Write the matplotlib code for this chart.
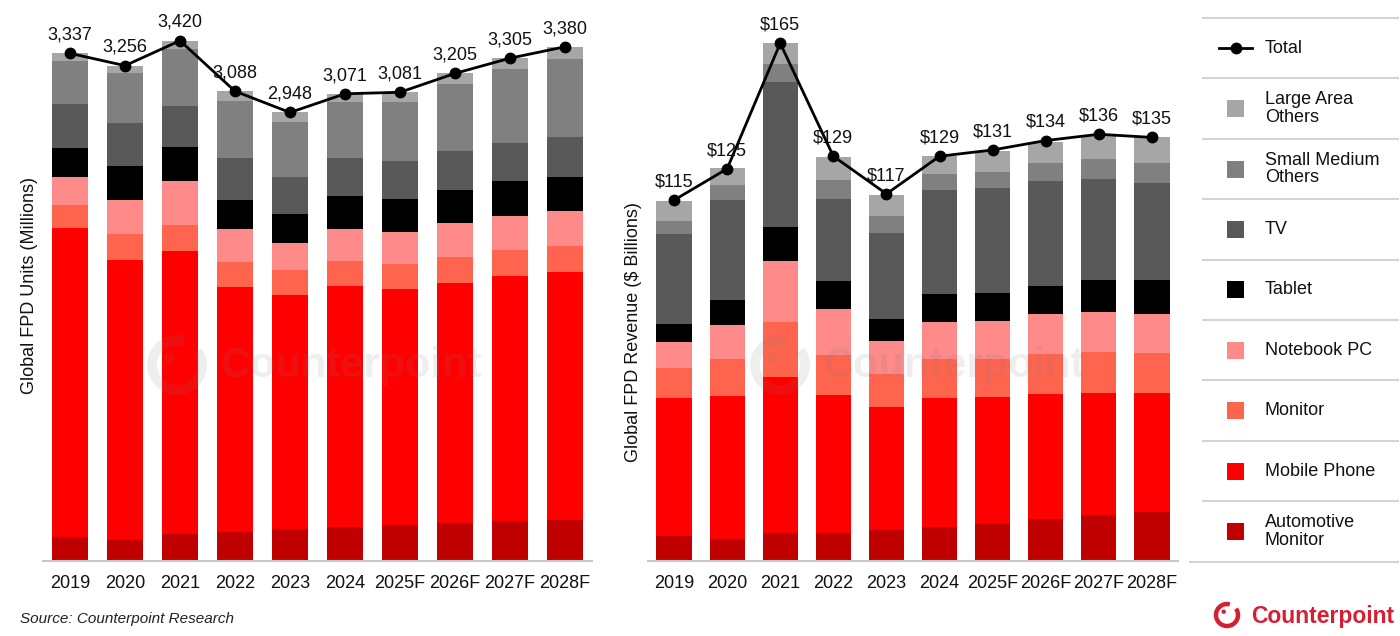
import matplotlib
matplotlib.use("Agg")
import matplotlib.pyplot as plt
from matplotlib.patches import Arc, Circle, Rectangle
import numpy as np

plt.rcParams["font.family"] = ["Liberation Sans", "DejaVu Sans"]

YEARS = ["2019", "2020", "2021", "2022", "2023", "2024",
         "2025F", "2026F", "2027F", "2028F"]

# stacking order, bottom to top
SEGMENTS = ["Automotive\nMonitor", "Mobile Phone", "Monitor", "Notebook PC",
            "Tablet", "TV", "Small Medium\nOthers", "Large Area\nOthers"]
COLORS = ["#c00000", "#ff0000", "#ff644e", "#ff8a8a",
          "#000000", "#595959", "#808080", "#a6a6a6"]

# Global FPD units (millions)
UNITS_AUTO     = [160, 138, 175, 193, 212, 225, 235, 248, 261, 271]
UNITS_MOBILE   = [2026, 1842, 1861, 1610, 1535, 1581, 1553, 1581, 1612, 1627]
UNITS_MONITOR  = [151, 169, 175, 162, 164, 166, 164, 169, 173, 173]
UNITS_NOTEBOOK = [188, 225, 285, 215, 182, 212, 210, 221, 223, 230]
UNITS_TABLET   = [189, 221, 225, 195, 186, 215, 217, 221, 226, 226]
UNITS_TV       = [287, 283, 269, 272, 245, 250, 248, 254, 254, 258]
UNITS_SMO      = [285, 329, 374, 376, 359, 368, 392, 440, 484, 517]
UNITS_LAO      = [51, 48, 56, 65, 65, 54, 62, 71, 72, 78]
UNITS_TOTAL    = [3337, 3256, 3420, 3088, 2948, 3071, 3081, 3205, 3305, 3380]

# Global FPD revenue ($ billions)
REV_AUTO     = [8.0, 7.1, 8.8, 8.8, 10.0, 10.9, 11.9, 13.4, 14.6, 15.6]
REV_MOBILE   = [44.1, 45.6, 50.0, 44.1, 39.1, 41.2, 40.4, 39.9, 39.0, 37.9]
REV_MONITOR  = [9.4, 11.6, 17.4, 12.8, 10.6, 12.4, 12.2, 12.8, 12.9, 12.8]
REV_NOTEBOOK = [8.4, 11.0, 19.5, 14.7, 10.5, 11.6, 11.9, 12.5, 12.8, 12.5]
REV_TABLET   = [5.7, 8.0, 10.6, 8.7, 6.9, 9.0, 9.1, 9.2, 10.4, 10.8]
REV_TV       = [28.6, 31.6, 46.4, 26.4, 27.5, 33.1, 33.5, 33.2, 32.2, 30.8]
REV_SMO      = [4.1, 4.8, 5.8, 5.8, 5.4, 5.0, 5.0, 5.7, 6.1, 6.4]
REV_LAO      = [6.5, 5.6, 6.6, 7.3, 6.5, 6.0, 6.7, 6.9, 7.6, 8.2]
REV_TOTAL    = [115, 125, 165, 129, 117, 129, 131, 134, 136, 135]

UNITS = [UNITS_AUTO, UNITS_MOBILE, UNITS_MONITOR, UNITS_NOTEBOOK,
         UNITS_TABLET, UNITS_TV, UNITS_SMO, UNITS_LAO]
REV = [REV_AUTO, REV_MOBILE, REV_MONITOR, REV_NOTEBOOK,
       REV_TABLET, REV_TV, REV_SMO, REV_LAO]

BRAND_RED = "#d71f34"
W, H = 1400, 636


def draw_panel(ax, layers, totals, fmt, width, ymax):
    x = np.arange(len(YEARS))
    bottom = np.zeros(len(YEARS))
    for vals, color in zip(layers, COLORS):
        ax.bar(x, vals, width, bottom=bottom, color=color, linewidth=0, zorder=2)
        bottom += np.array(vals)
    ax.plot(x, totals, color="black", lw=2, marker="o", ms=7.5, zorder=5)
    for xi, t in zip(x, totals):
        ax.annotate(fmt(t), (xi, t), xytext=(0, 7), textcoords="offset points",
                    ha="center", va="bottom", fontsize=13, color="#111111")
    ax.set_xlim(-0.49, len(YEARS) - 0.51)
    ax.set_ylim(0, ymax)
    ax.set_xticks(x)
    ax.set_xticklabels(YEARS, fontsize=13, color="#111111")
    ax.set_yticks([])
    ax.tick_params(axis="x", length=0, pad=10)
    for side in ("top", "right", "left"):
        ax.spines[side].set_visible(False)
    ax.spines["bottom"].set_color("#c8c8c8")
    ax.spines["bottom"].set_linewidth(1.5)
    ax.set_facecolor("none")


def logo(ov, cx, cy, r, lw, color, alpha, text, tx, fs):
    ov.add_patch(Arc((cx, cy), 2 * r, 2 * r, theta1=-35, theta2=285,
                     lw=lw, color=color, alpha=alpha))
    ov.add_patch(Circle((cx - 0.3 * r, cy - 0.3 * r), r * 0.2,
                        color=color, alpha=alpha, lw=0))
    ov.text(tx, cy + 1, text, fontsize=fs, fontweight="bold", color=color,
            alpha=alpha, ha="left", va="center")


fig = plt.figure(figsize=(14, 6.36), dpi=100)

ax1 = fig.add_axes([43 / W, 75 / H, 549 / W, 551 / H])
draw_panel(ax1, UNITS, UNITS_TOTAL, lambda v: f"{v:,}", 0.67, 551 * 6.573)

ax2 = fig.add_axes([648 / W, 75 / H, 530 / W, 551 / H])
draw_panel(ax2, REV, REV_TOTAL, lambda v: f"${v}", 0.66, 551 * 0.3187)

fig.text(30 / W, 1 - 286 / H, "Global FPD Units (Millions)", rotation=90,
         ha="center", va="center", fontsize=13, color="#111111")
fig.text(633 / W, 1 - 332 / H, "Global FPD Revenue ($ Billions)", rotation=90,
         ha="center", va="center", fontsize=13, color="#111111")
fig.text(20 / W, 1 - 619 / H, "Source: Counterpoint Research", style="italic",
         ha="left", va="center", fontsize=11, color="#222222")

# overlay in pixel units for the legend panel, watermarks and logo
ov = fig.add_axes([0, 0, 1, 1], zorder=10)
ov.set_xlim(0, W)
ov.set_ylim(H, 0)
ov.axis("off")
ov.patch.set_alpha(0)

row_h = 60.4
top = 18
for i in range(10):
    y = top + row_h * i
    x0 = 1190 if i == 9 else 1203
    ov.plot([x0, 1398], [y, y], color="#d4d4d4", lw=1.5)

names = ["Total"] + SEGMENTS[::-1]
cols = [None] + COLORS[::-1]
for i, (name, col) in enumerate(zip(names, cols)):
    cy = top + row_h * (i + 0.5)
    if col is None:
        ov.plot([1219, 1252], [cy, cy], color="black", lw=2)
        ov.plot([1235.5], [cy], marker="o", color="black", ms=7.5)
    else:
        ov.add_patch(Rectangle((1227, cy - 8.5), 17, 17, color=col, lw=0))
    ov.text(1265, cy, name, fontsize=13, ha="left", va="center",
            linespacing=1.05, color="#111111")

# watermarks
logo(ov, 177, 365, 25, 7, "#808080", 0.13, "Counterpoint", 220, 30)
logo(ov, 780, 365, 25, 7, "#808080", 0.13, "Counterpoint", 823, 30)

# brand logo
logo(ov, 1227, 615, 11, 3.2, BRAND_RED, 1.0, "Counterpoint", 1251, 16.5)

fig.savefig("out.png", dpi=100)
